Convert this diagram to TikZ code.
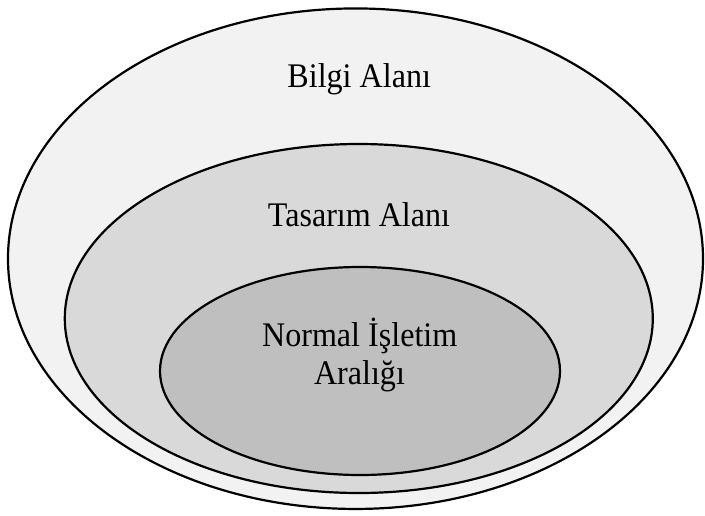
\documentclass[tikz,border=0pt]{standalone}
\usepackage{fontspec}
\setmainfont{Liberation Serif}
\usetikzlibrary{shapes.geometric}
\definecolor{cOuter}{HTML}{F2F2F2}
\definecolor{cMid}{HTML}{D9D9D9}
\definecolor{cIn}{HTML}{BFBFBF}
\newcommand{\narrowtext}[1]{\scalebox{0.93}[1]{#1}}
\tikzset{
  zone/.style={ellipse, draw=black, line width=2.2pt, inner sep=0pt},
  lbl/.style={anchor=base, inner sep=0pt, font=\fontsize{34.5}{40}\selectfont}
}
\begin{document}
\begin{tikzpicture}[x=1pt,y=-1pt]
\useasboundingbox (0,0) rectangle (705,515);
\node[zone, fill=cOuter, minimum width=695pt, minimum height=500.5pt] (outer) at (355.5,258.7) {};
\node[zone, fill=cMid, minimum width=588pt, minimum height=349pt] (mid) at (358.8,318.5) {};
\node[zone, fill=cIn, minimum width=400pt, minimum height=208pt] (inner) at (360,371) {};
\node[lbl] (t1) at (359.2,87.3) {\narrowtext{Bilgi Alanı}};
\node[lbl] (t2) at (359,226) {\narrowtext{Tasarım Alanı}};
\node[lbl] (t3) at (359.7,346.5) {\narrowtext{Normal İşletim}};
\node[lbl] (t4) at (359.5,384.7) {\narrowtext{Aralığı}};
\end{tikzpicture}
\end{document}
